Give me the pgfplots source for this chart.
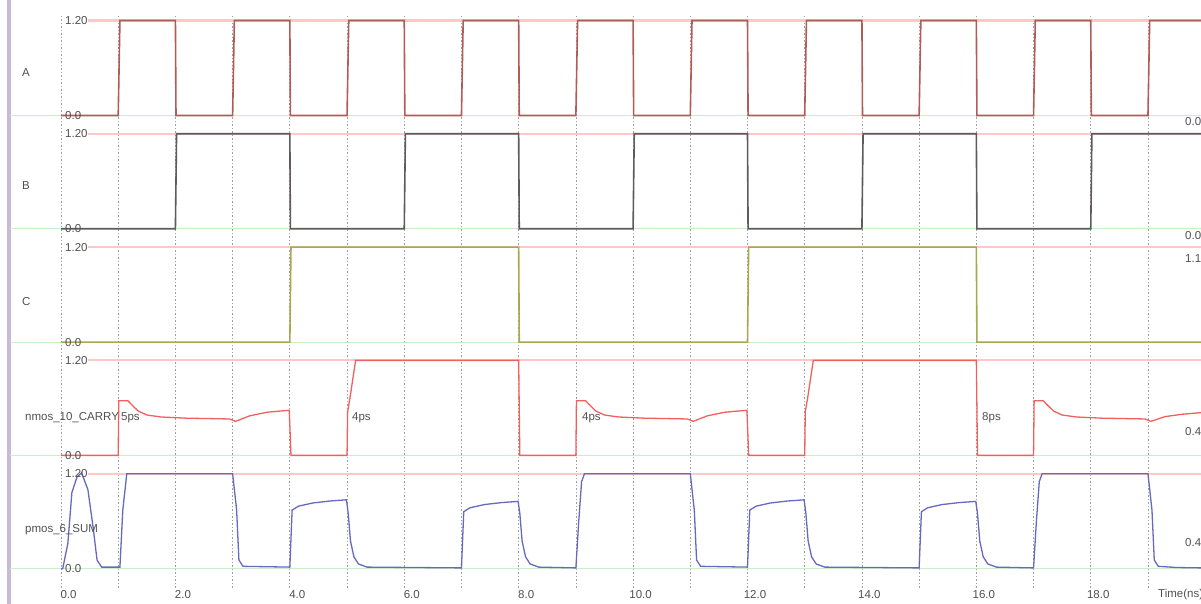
\documentclass[border=0pt]{standalone}
\usepackage{pgfplots}
\pgfplotsset{compat=1.18}
\usepackage{fontspec}
\setmainfont{Liberation Sans}
\definecolor{sigA}{RGB}{178,92,88}
\definecolor{sigB}{RGB}{96,90,90}
\definecolor{sigC}{RGB}{168,168,80}
\definecolor{sigCarry}{RGB}{240,96,96}
\definecolor{sigSum}{RGB}{104,104,192}
\definecolor{refPink}{RGB}{255,200,200}
\definecolor{refGreen}{RGB}{200,240,200}
\definecolor{txt}{RGB}{80,80,80}
\definecolor{border}{RGB}{200,186,212}
\definecolor{gridc}{RGB}{160,160,160}
\pgfplotsset{
  panel/.style={scale only axis, width=1140pt, height=95pt, xmin=0, xmax=19.927,
    ymin=0, ymax=1.2, hide axis, clip=false, anchor=south west},
}
\newcommand{\refl}{%
  \addplot[refPink, line width=2.2pt] coordinates {(0.47,1.2) (20.5,1.2)};
  \addplot[refGreen, line width=1pt] coordinates {(-0.9,0) (20.5,0)};
}
\begin{document}
\fontsize{11.5}{13}\selectfont
\begin{tikzpicture}
\useasboundingbox (0,0) rectangle (1201pt,604pt);
\clip (0,0) rectangle (1201pt,604pt);
\fill[border] (7pt,0) rectangle (11pt,604pt);
% background grid
\begin{axis}[at={(61pt,16pt)}, anchor=south west, scale only axis, width=1140pt, height=574pt,
  xmin=0, xmax=19.927, ymin=0, ymax=1,
  axis line style={draw=none}, ytick=\empty, tick style={draw=none},
  xtick={0,2,...,18}, xticklabels={0.0,2.0,4.0,6.0,8.0,10.0,12.0,14.0,16.0,18.0},
  minor xtick={1,3,...,19},
  xmajorgrids, xminorgrids,
  major grid style={gridc, line width=0.7pt, dash pattern=on 1.5pt off 2pt},
  minor grid style={gridc, line width=0.7pt, dash pattern=on 1.5pt off 2pt},
  xticklabel style={anchor=center, xshift=7.5pt, yshift=-7pt, text=txt, font=\fontsize{11.5}{13}\selectfont}]
\addplot[draw=none] coordinates {(0,0)};
\end{axis}
% A
\begin{axis}[panel, at={(61pt,488.5pt)}]
\refl
\addplot[sigA, line width=1.6pt] coordinates {(0,0)(1,0)(1.03,1.2)(2,1.2)(2.01,0)(3,0)(3.03,1.2)(4,1.2)(4.01,0)(5,0)(5.03,1.2)(6,1.2)(6.01,0)(7,0)(7.03,1.2)(8,1.2)(8.01,0)(9,0)(9.03,1.2)(10,1.2)(10.01,0)(11,0)(11.03,1.2)(12,1.2)(12.01,0)(13,0)(13.03,1.2)(14,1.2)(14.01,0)(15,0)(15.03,1.2)(16,1.2)(16.01,0)(17,0)(17.03,1.2)(18,1.2)(18.01,0)(19,0)(19.03,1.2)(19.93,1.2)};
\end{axis}
% B
\begin{axis}[panel, at={(61pt,375.2pt)}]
\refl
\addplot[sigB, line width=1.6pt] coordinates {(0,0)(2,0)(2.02,1.2)(4,1.2)(4.01,0)(6,0)(6.02,1.2)(8,1.2)(8.01,0)(10,0)(10.02,1.2)(12,1.2)(12.01,0)(14,0)(14.02,1.2)(16,1.2)(16.01,0)(18,0)(18.02,1.2)(19.93,1.2)};
\end{axis}
% C
\begin{axis}[panel, at={(61pt,261.9pt)}]
\refl
\addplot[sigC, line width=1.6pt] coordinates {(0,0)(4,0)(4.02,1.2)(8,1.2)(8.01,0)(12,0)(12.02,1.2)(16,1.2)(16.01,0)(19.93,0)};
\end{axis}
% CARRY
\begin{axis}[panel, at={(61pt,148.6pt)}]
\refl
\addplot[sigCarry, line width=1.3pt] coordinates {(0,0)(1,0)(1.01,0.69)(1.17,0.69)(1.25,0.63)(1.35,0.56)(1.5,0.51)(1.75,0.485)(2.2,0.47)(2.6,0.465)(2.95,0.46)(3.05,0.43)(3.3,0.5)(3.6,0.545)(3.99,0.57)(4.02,0)(5,0)(5.01,0.55)(5.05,0.72)(5.15,1.2)(8,1.2)(8.02,0)(9,0)(9.01,0.69)(9.17,0.69)(9.25,0.63)(9.35,0.56)(9.5,0.51)(9.75,0.485)(10.2,0.47)(10.6,0.465)(10.95,0.46)(11.05,0.43)(11.3,0.5)(11.6,0.545)(11.99,0.57)(12.02,0)(13,0)(13.01,0.55)(13.05,0.72)(13.15,1.2)(16,1.2)(16.02,0)(17,0)(17.01,0.69)(17.17,0.69)(17.25,0.63)(17.35,0.56)(17.5,0.51)(17.75,0.485)(18.2,0.47)(18.6,0.465)(18.95,0.46)(19.05,0.43)(19.3,0.49)(19.6,0.52)(19.93,0.54)};
\end{axis}
% SUM
\begin{axis}[panel, at={(61pt,35.3pt)}]
\refl
\addplot[sigSum, line width=1.3pt] coordinates {(0,0)(0.03,0)(0.12,0.32)(0.19,0.96)(0.28,1.16)(0.36,1.21)(0.47,1.0)(0.56,0.53)(0.63,0.11)(0.71,0.02)(1.03,0.02)(1.08,0.74)(1.15,1.2)(3.0,1.2)(3.07,0.74)(3.11,0.11)(3.18,0.03)(4.0,0.02)(4.04,0.74)(4.15,0.79)(4.4,0.83)(4.7,0.855)(4.99,0.87)(5.02,0.7)(5.06,0.35)(5.12,0.15)(5.2,0.06)(5.35,0.02)(7,0.01)(7.04,0.72)(7.15,0.77)(7.4,0.81)(7.7,0.835)(7.99,0.85)(8.02,0.7)(8.06,0.35)(8.12,0.15)(8.2,0.06)(8.35,0.02)(9,0.01)(9.05,0.6)(9.1,1.1)(9.15,1.2)(11,1.2)(11.07,0.74)(11.11,0.11)(11.18,0.03)(12,0.02)(12.04,0.74)(12.15,0.79)(12.4,0.83)(12.7,0.855)(12.99,0.87)(13.02,0.7)(13.06,0.35)(13.12,0.15)(13.2,0.06)(13.35,0.02)(15,0.01)(15.04,0.72)(15.15,0.77)(15.4,0.81)(15.7,0.835)(15.99,0.85)(16.02,0.7)(16.06,0.35)(16.12,0.15)(16.2,0.06)(16.35,0.02)(17,0.01)(17.05,0.6)(17.1,1.1)(17.15,1.2)(19,1.2)(19.07,0.74)(19.11,0.11)(19.18,0.03)(19.5,0.015)(19.93,0.01)};
\end{axis}
% texts
\begin{scope}[every node/.style={text=txt, inner sep=0pt, anchor=west}]
\foreach \b in {488.5,375.2,261.9,148.6,35.3}{
  \node at (65pt,\b pt+95pt) {1.20};
  \node at (65pt,\b pt) {0.0};
}
\node at (22pt,531pt) {A};
\node at (22pt,418pt) {B};
\node at (22pt,302pt) {C};
\node at (25pt,186pt) {nmos\_10\_CARRY};
\node at (25pt,74pt) {pmos\_6\_SUM};
\node at (121pt,186pt) {5ps};
\node at (352pt,186pt) {4ps};
\node at (582pt,186pt) {4ps};
\node at (982pt,186pt) {8ps};
\node at (1185pt,482pt) {0.00};
\node at (1185pt,368pt) {0.00};
\node at (1185pt,345pt) {1.17};
\node at (1185pt,172pt) {0.47};
\node at (1185pt,61pt) {0.46};
\node at (1158pt,9pt) {Time(ns)};
\end{scope}
\end{tikzpicture}
\end{document}
